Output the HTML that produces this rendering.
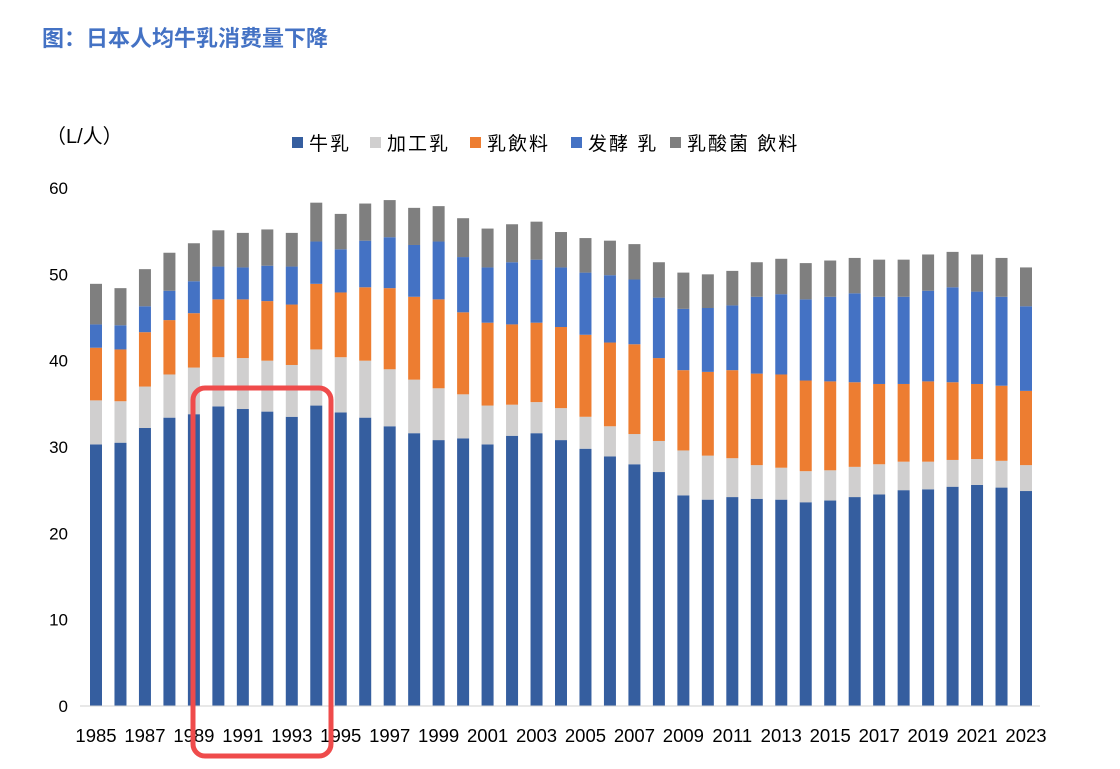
<!DOCTYPE html>
<html><head><meta charset="utf-8"><style>
body{margin:0;background:#fff;}
svg text{font-family:"Liberation Sans","Noto Sans CJK SC",sans-serif;}
</style></head><body>
<svg id="chart" width="1120" height="764">
<text x="42" y="46" font-size="22" font-weight="bold" fill="#4472C4">图：日本人均牛乳消费量下降</text>
<text x="46" y="143" font-size="20" fill="#000">（L/人）</text>
<g id="legend"></g>
<g id="yaxis"></g>
<g id="bars"></g>
<line x1="80" y1="706" x2="1040" y2="706" stroke="#d0d0d0" stroke-width="1"/>
<g id="xaxis"></g>
<rect x="193" y="388" width="138" height="368" rx="12" fill="none" stroke="#EF4B4B" stroke-width="5"/>
</svg>
<script>
const years=[];for(let y=1985;y<=2023;y++)years.push(y);
const milk=[30.3,30.5,32.2,33.4,33.8,34.7,34.4,34.1,33.5,34.8,34.0,33.4,32.4,31.6,30.8,31.0,30.3,31.3,31.6,30.8,29.8,28.9,28.0,27.1,24.4,23.9,24.2,24.0,23.9,23.6,23.8,24.2,24.5,25.0,25.1,25.4,25.6,25.3,24.9];
const processed=[5.1,4.8,4.8,5.0,5.4,5.7,5.9,5.9,6.0,6.5,6.4,6.6,6.6,6.2,6.0,5.1,4.5,3.6,3.6,3.7,3.7,3.5,3.5,3.6,5.2,5.1,4.5,3.9,3.7,3.6,3.5,3.5,3.5,3.3,3.2,3.1,3.0,3.1,3.0];
const milkDrink=[6.1,6.0,6.3,6.3,6.3,6.7,6.8,6.9,7.0,7.6,7.5,8.5,9.4,9.6,10.3,9.5,9.6,9.3,9.2,9.4,9.5,9.7,10.4,9.6,9.3,9.7,10.2,10.6,10.8,10.5,10.3,9.8,9.3,9.0,9.3,9.0,8.7,8.7,8.6];
const fermented=[2.7,2.8,3.0,3.4,3.7,3.8,3.7,4.1,4.4,4.9,5.0,5.4,5.9,6.0,6.7,6.4,6.4,7.2,7.3,6.9,7.2,7.8,7.5,7.0,7.1,7.4,7.5,8.9,9.3,9.4,9.8,10.3,10.1,10.1,10.5,11.0,10.7,10.3,9.8];
const lactic=[4.7,4.3,4.3,4.4,4.4,4.2,4.0,4.2,3.9,4.5,4.1,4.3,4.3,4.3,4.1,4.5,4.5,4.4,4.4,4.1,4.0,4.0,4.1,4.1,4.2,3.9,4.0,4.0,4.1,4.2,4.2,4.1,4.3,4.3,4.2,4.1,4.3,4.5,4.5];
const seriesNames=["牛乳","加工乳","乳飲料","发酵 乳","乳酸菌 飲料"];
const yTicks=[0,10,20,30,40,50,60];
const series=[milk,processed,milkDrink,fermented,lactic];
const colors=["#355E9F","#D0CFCF","#ED7D31","#4472C4","#7F7F7F"];
const NS="http://www.w3.org/2000/svg";
const y0=706,yTop=188,vMax=60;
const yS=v=>y0-(v/vMax)*(y0-yTop);
const x0=96,x1=1026;
const xS=i=>x0+i*(x1-x0)/(years.length-1);
const bw=12;
function mk(t,a,p){const e=document.createElementNS(NS,t);for(const k in a)e.setAttribute(k,a[k]);p.appendChild(e);return e;}
const yg=document.getElementById('yaxis');
yTicks.forEach(t=>{const e=mk('text',{x:68,y:yS(t)+6,'text-anchor':'end','font-size':17},yg);e.textContent=t;

});
const bg=document.getElementById('bars');
years.forEach((yr,i)=>{let acc=0;series.forEach((s,k)=>{const top=yS(acc+s[i]),bot=yS(acc);acc+=s[i];
const r=mk('rect',{x:xS(i)-bw/2,y:top,width:bw,height:Math.max(0,bot-top),fill:colors[k]},bg);

});});
const xg=document.getElementById('xaxis');
years.forEach((yr,i)=>{if(i%2)return;const e=mk('text',{x:xS(i),y:742,'text-anchor':'middle','font-size':18.5},xg);e.textContent=yr;

});
const lg=document.getElementById('legend');
const lx=[292,370,470,571,670];
seriesNames.forEach((n,k)=>{mk('rect',{x:lx[k],y:137,width:11,height:11,fill:colors[k]},lg);
const t=mk('text',{x:lx[k]+17,y:150,'font-size':19,'letter-spacing':2},lg);t.textContent=n;

});
</script>
</body></html>
